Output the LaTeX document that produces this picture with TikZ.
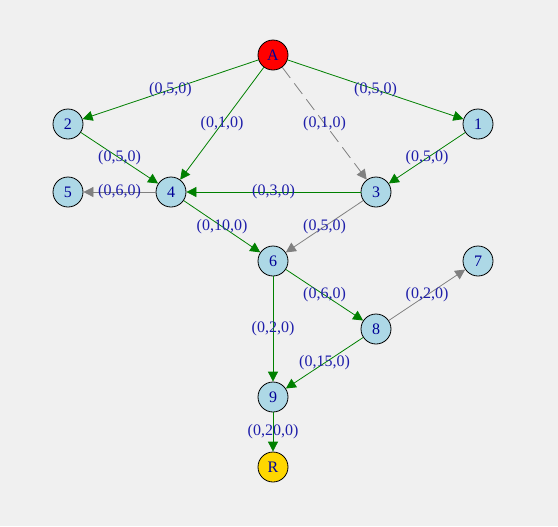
\documentclass[tikz,border=0pt]{standalone}
\usepackage{fontspec}
\setmainfont{Liberation Serif}
\usetikzlibrary{arrows.meta}
\definecolor{bg}{HTML}{F0F0F0}
\definecolor{nodeblue}{HTML}{ADD8E6}
\definecolor{gold}{HTML}{FFD700}
\definecolor{edgegreen}{HTML}{008000}
\definecolor{edgegray}{HTML}{808080}
\definecolor{labelblue}{RGB}{30,30,170}
\definecolor{nodetext}{RGB}{0,0,150}
\tikzset{
  vert/.style={circle,draw=black,line width=0.6pt,fill=nodeblue,minimum size=22.5pt,inner sep=0pt,font=\fontsize{12}{14}\selectfont,text=nodetext},
  ge/.style={draw=edgegreen,line width=0.6pt,-{Triangle[length=7.5pt,width=7.5pt]}},
  gr/.style={draw=edgegray,line width=0.6pt,-{Triangle[length=7.5pt,width=7.5pt]}},
  elab/.style={font=\fontsize{12}{14}\selectfont,text=labelblue,inner sep=0pt},
}
\begin{document}
\begin{tikzpicture}[x=0.75pt,y=-0.75pt]
\fill[bg] (0,0) rectangle (558,526);
\useasboundingbox (0,0) rectangle (558,526);
\node[vert,fill=red] (A) at (273,55) {A};
\node[vert] (n2) at (68,124) {2};
\node[vert] (n1) at (478,124) {1};
\node[vert] (n5) at (68,192) {5};
\node[vert] (n4) at (171,192) {4};
\node[vert] (n3) at (376,192) {3};
\node[vert] (n6) at (273,261) {6};
\node[vert] (n7) at (478,261) {7};
\node[vert] (n8) at (376,329) {8};
\node[vert] (n9) at (273,397) {9};
\node[vert,fill=gold] (R) at (273,467) {R};

\draw[ge] (A) -- (n2) node[elab,midway] {(0,5,0)};
\draw[ge] (A) -- (n1) node[elab,midway] {(0,5,0)};
\draw[ge] (A) -- (n4) node[elab,midway] {(0,1,0)};
\draw[gr,dash pattern=on 10pt off 5pt] (A) -- (n3) node[elab,midway] {(0,1,0)};
\draw[ge] (n2) -- (n4) node[elab,midway] {(0,5,0)};
\draw[ge] (n1) -- (n3) node[elab,midway] {(0,5,0)};
\draw[gr] (n4) -- (n5) node[elab,midway] {(0,6,0)};
\draw[ge] (n3) -- (n4) node[elab,midway] {(0,3,0)};
\draw[ge] (n4) -- (n6) node[elab,midway] {(0,10,0)};
\draw[gr] (n3) -- (n6) node[elab,midway] {(0,5,0)};
\draw[ge] (n6) -- (n8) node[elab,midway] {(0,6,0)};
\draw[gr] (n8) -- (n7) node[elab,midway] {(0,2,0)};
\draw[ge] (n6) -- (n9) node[elab,midway] {(0,2,0)};
\draw[ge] (n8) -- (n9) node[elab,midway] {(0,15,0)};
\draw[ge] (n9) -- (R) node[elab,midway] {(0,20,0)};
\end{tikzpicture}
\end{document}
